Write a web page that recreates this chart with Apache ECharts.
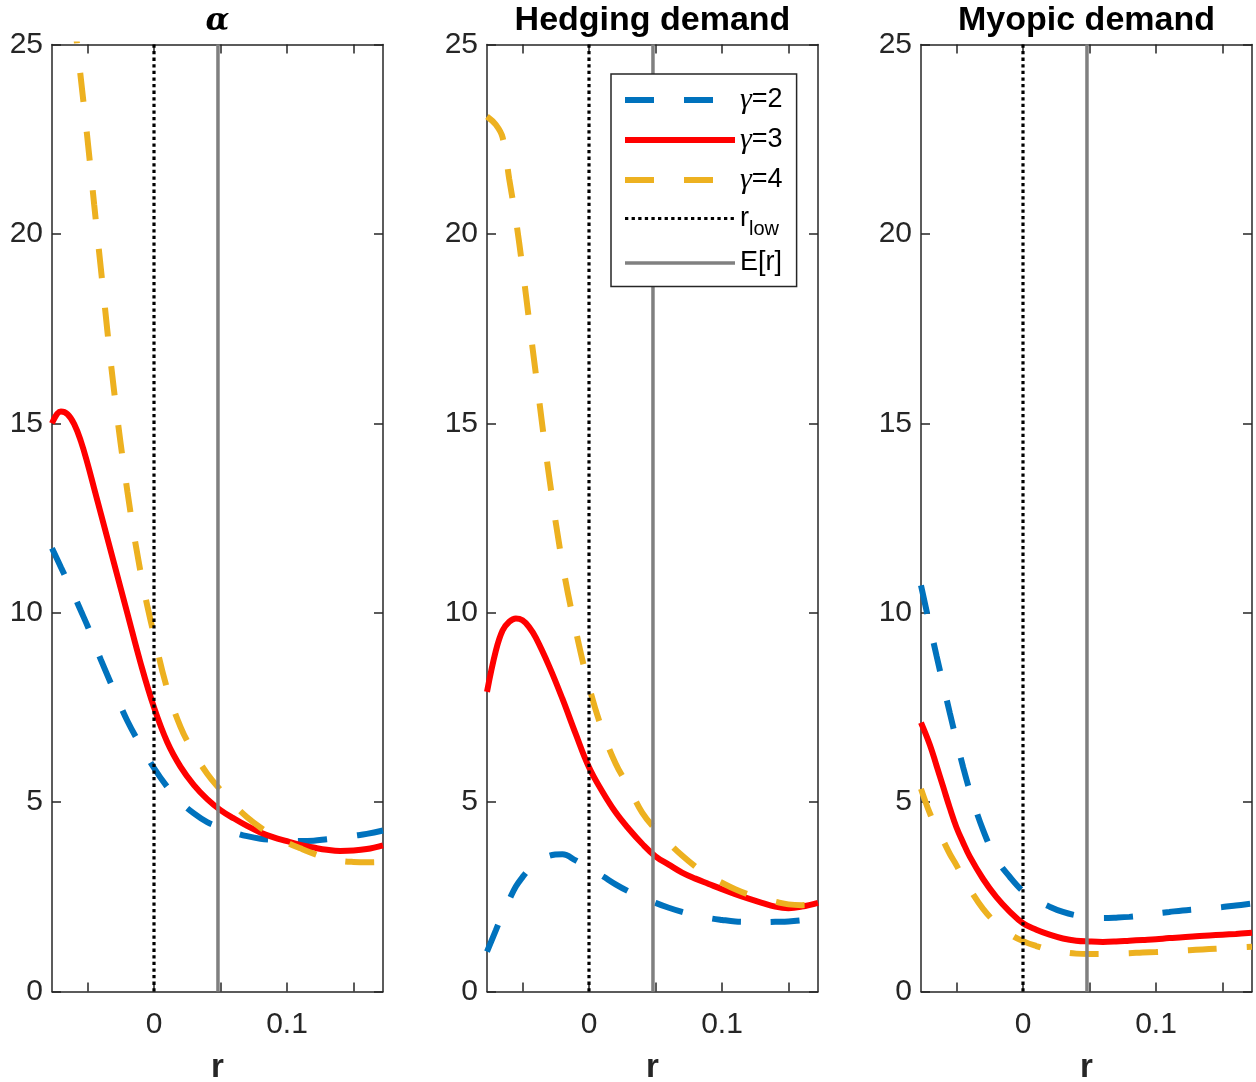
<!DOCTYPE html>
<html>
<head>
<meta charset="utf-8">
<script src="https://cdn.jsdelivr.net/npm/echarts@6/dist/echarts.min.js"></script>
<style>
html,body{margin:0;padding:0;background:#fff;}
#chart{width:1256px;height:1082px;}
</style>
</head>
<body>
<div id="chart"></div>
<script>
// ---------------- data ----------------
const r = [-0.0767, -0.07, -0.065, -0.06, -0.055, -0.05, -0.045, -0.04, -0.03, -0.02, -0.01, 0, 0.01,
           0.02, 0.03, 0.04, 0.05, 0.06, 0.07, 0.08, 0.09, 0.1, 0.11, 0.12, 0.13, 0.14, 0.15, 0.16, 0.1722];

// panel 1: alpha
const alphaG2 = [11.7, 11.2, 10.83, 10.45, 10.05, 9.65, 9.2, 8.76, 7.94, 7.14, 6.5, 5.9, 5.4,
                 5.0, 4.7, 4.47, 4.33, 4.2, 4.1, 4.03, 4.0, 3.98, 3.97, 3.98, 4.02, 4.06, 4.11, 4.16, 4.25];
const alphaG3 = [15.0, 15.31, 15.24, 14.98, 14.53, 13.94, 13.28, 12.62, 11.3, 9.98, 8.66, 7.5, 6.58,
                 5.93, 5.45, 5.08, 4.79, 4.57, 4.37, 4.2, 4.07, 3.97, 3.87, 3.8, 3.74, 3.71, 3.72, 3.76, 3.86];
const alphaG4 = [32, 29.2, 27.4, 25.7, 24.1, 22.5, 20.78, 19.1, 15.85, 13.2, 11.05, 9.4, 7.98,
                 6.98, 6.3, 5.75, 5.32, 4.93, 4.6, 4.33, 4.1, 3.93, 3.78, 3.64, 3.52, 3.45, 3.42, 3.41, 3.42];

// panel 2: hedging demand
const hedgeG2 = [1.05, 1.62, 2.05, 2.42, 2.77, 3.02, 3.23, 3.38, 3.58, 3.62, 3.46, 3.25, 3.05,
                 2.83, 2.64, 2.49, 2.34, 2.21, 2.1, 2.01, 1.94, 1.89, 1.85, 1.84, 1.83, 1.84, 1.85, 1.88, 1.93];
const hedgeG3 = [7.91, 9.0, 9.53, 9.76, 9.85, 9.8, 9.62, 9.34, 8.59, 7.73, 6.8, 5.92, 5.28,
                 4.73, 4.29, 3.9, 3.57, 3.35, 3.14, 2.98, 2.84, 2.7, 2.57, 2.45, 2.34, 2.24, 2.2, 2.24, 2.34];
const hedgeG4 = [23.1, 22.88, 22.55, 21.45, 20.38, 19.1, 17.7, 16.31, 13.6, 11.3, 9.54, 8.06, 6.9,
                 6.02, 5.39, 4.72, 4.28, 3.92, 3.59, 3.3, 3.05, 2.87, 2.7, 2.56, 2.45, 2.37, 2.3, 2.28, 2.3];

// panel 3: myopic demand
const myopicG2 = [10.72, 9.65, 8.86, 8.1, 7.35, 6.62, 5.92, 5.3, 4.26, 3.5, 3.03, 2.65, 2.42,
                  2.24, 2.1, 2.01, 1.96, 1.94, 1.95, 1.97, 2.01, 2.06, 2.1, 2.14, 2.17, 2.2, 2.23, 2.27, 2.32];
const myopicG3 = [7.1, 6.51, 5.96, 5.4, 4.84, 4.33, 3.93, 3.56, 2.97, 2.49, 2.11, 1.8, 1.63,
                  1.5, 1.4, 1.34, 1.32, 1.31, 1.32, 1.34, 1.36, 1.38, 1.41, 1.43, 1.46, 1.48, 1.5, 1.52, 1.55];
const myopicG4 = [5.35, 4.7, 4.32, 3.98, 3.63, 3.33, 3.0, 2.7, 2.18, 1.8, 1.52, 1.33, 1.2,
                  1.1, 1.04, 1.0, 0.99, 0.99, 1.0, 1.01, 1.03, 1.04, 1.06, 1.08, 1.1, 1.12, 1.14, 1.16, 1.18];

const rLow = 0;
const expectedR = 0.0481;

const panelTitles = ['α', 'Hedging demand', 'Myopic demand'];
const seriesNames = ['γ=2', 'γ=3', 'γ=4', 'r_low', 'E[r]'];
const xTickValues = [-0.05, 0, 0.05, 0.1, 0.15];
const xLabelValues = [0, 0.1];
const xMin = -0.0767, xMax = 0.1722;
const yMin = 0, yMax = 25, yStep = 5;
const xAxisName = 'r';

const panels = [
  [alphaG2, alphaG3, alphaG4],
  [hedgeG2, hedgeG3, hedgeG4],
  [myopicG2, myopicG3, myopicG4]
];

// ---------------- style ----------------
const colors = ['#0072BD', '#FF0000', '#EDB120'];
const axisColor = '#262626';
const gridLefts = [52, 487, 921];
const gridTop = 44.5, gridW = 331, gridH = 947;
const sans = 'Liberation Sans, Arial, Helvetica, sans-serif';
const serif = 'Liberation Serif, Times New Roman, serif';
const curveWidth = 6;
const dash = [29, 30];

const grids = [], xAxes = [], yAxes = [], series = [], titles = [];
const axisLineStyle = { color: axisColor, width: 1.5 };

for (let i = 0; i < 3; i++) {
  grids.push({ left: gridLefts[i], top: gridTop, width: gridW, height: gridH,
               containLabel: false, outerBoundsMode: 'none' });
  titles.push({
    text: panelTitles[i],
    left: gridLefts[i] + gridW / 2,
    top: i === 0 ? 6 : 4,
    padding: 0,
    textAlign: 'center',
    textStyle: i === 0
      ? { fontFamily: 'DejaVu Serif, serif', fontStyle: 'italic', fontWeight: 'bold', fontSize: 31, color: '#000' }
      : { fontFamily: sans, fontWeight: 'bold', fontSize: 34, color: '#000' }
  });
}
// bottom x axes (0..2)
for (let i = 0; i < 3; i++) {
  xAxes.push({
    type: 'value', gridIndex: i, position: 'bottom', min: xMin, max: xMax,
    axisLine: { show: true, onZero: false, lineStyle: axisLineStyle },
    axisTick: { show: true, inside: true, length: 9, customValues: xTickValues, lineStyle: axisLineStyle },
    axisLabel: { show: true, customValues: xLabelValues, margin: 18, fontSize: 30, fontFamily: sans, color: axisColor,
                 formatter: v => String(v) },
    splitLine: { show: false },
    name: xAxisName, nameLocation: 'middle', nameGap: 60,
    nameTextStyle: { fontSize: 33, fontWeight: 'bold', fontFamily: sans, color: axisColor }
  });
}
// top x axes (3..5)
for (let i = 0; i < 3; i++) {
  xAxes.push({
    type: 'value', gridIndex: i, position: 'top', min: xMin, max: xMax,
    axisLine: { show: true, onZero: false, lineStyle: axisLineStyle },
    axisTick: { show: true, inside: true, length: 9, customValues: xTickValues, lineStyle: axisLineStyle },
    axisLabel: { show: false },
    splitLine: { show: false }
  });
}
// left y axes (0..2)
for (let i = 0; i < 3; i++) {
  yAxes.push({
    type: 'value', gridIndex: i, position: 'left', min: yMin, max: yMax, interval: yStep,
    axisLine: { show: true, onZero: false, lineStyle: axisLineStyle },
    axisTick: { show: true, inside: true, length: 9, lineStyle: axisLineStyle },
    axisLabel: { show: true, margin: 9, fontSize: 30, fontFamily: sans, color: axisColor },
    splitLine: { show: false }
  });
}
// right y axes (3..5)
for (let i = 0; i < 3; i++) {
  yAxes.push({
    type: 'value', gridIndex: i, position: 'right', min: yMin, max: yMax, interval: yStep,
    axisLine: { show: true, onZero: false, lineStyle: axisLineStyle },
    axisTick: { show: true, inside: true, length: 9, lineStyle: axisLineStyle },
    axisLabel: { show: false },
    splitLine: { show: false }
  });
}

for (let i = 0; i < 3; i++) {
  panels[i].forEach((vals, k) => {
    series.push({
      type: 'line', name: seriesNames[k], xAxisIndex: i, yAxisIndex: i,
      data: r.map((x, j) => [x, vals[j]]),
      smooth: 0.4, symbol: 'circle', showSymbol: false, silent: true, z: 2,
      itemStyle: { color: colors[k] },
      lineStyle: { color: colors[k], width: curveWidth, type: k === 1 ? 'solid' : dash, cap: 'butt' }
    });
  });
  series.push({
    type: 'line', name: seriesNames[3], xAxisIndex: i, yAxisIndex: i,
    data: [[rLow, yMin], [rLow, yMax]],
    symbol: 'circle', showSymbol: false, silent: true, z: 3,
    itemStyle: { color: '#000' },
    lineStyle: { color: '#000', width: 3.2, type: [3.3, 3.3], cap: 'butt' }
  });
  series.push({
    type: 'line', name: seriesNames[4], xAxisIndex: i, yAxisIndex: i,
    data: [[expectedR, yMin], [expectedR, yMax]],
    symbol: 'circle', showSymbol: false, silent: true, z: 3,
    itemStyle: { color: '#808080' },
    lineStyle: { color: '#808080', width: 3.5, type: 'solid' }
  });
}

const legendLabel = {
  'γ=2': '{g|γ}=2', 'γ=3': '{g|γ}=3', 'γ=4': '{g|γ}=4',
  'r_low': 'r{sub|low}', 'E[r]': 'E[r]'
};
const legendWidths = [curveWidth, curveWidth, curveWidth, 3.2, 3.5];

const option = {
  animation: false,
  backgroundColor: '#fff',
  title: titles,
  grid: grids,
  xAxis: xAxes,
  yAxis: yAxes,
  legend: {
    data: seriesNames.map((n, k) => ({ name: n, lineStyle: { width: legendWidths[k] } })),
    orient: 'vertical',
    left: 611, top: 74,
    padding: [11, 14, 10, 11],
    itemWidth: 110, itemHeight: 14, itemGap: 10,
    selectedMode: false,
    backgroundColor: '#fff',
    borderColor: axisColor, borderWidth: 1.5, borderRadius: 0,
    itemStyle: { opacity: 0 },
    formatter: name => legendLabel[name],
    textStyle: {
      fontSize: 27, fontFamily: sans, color: '#000',
      rich: {
        g: { fontFamily: serif, fontStyle: 'italic', fontSize: 30, color: '#000' },
        sub: { fontFamily: sans, fontSize: 20, color: '#000', padding: [22, 0, 0, 0] }
      }
    }
  },
  series: series
};

const chart = echarts.init(document.getElementById('chart'), null, { renderer: 'canvas' });
chart.setOption(option);
</script>
</body>
</html>
